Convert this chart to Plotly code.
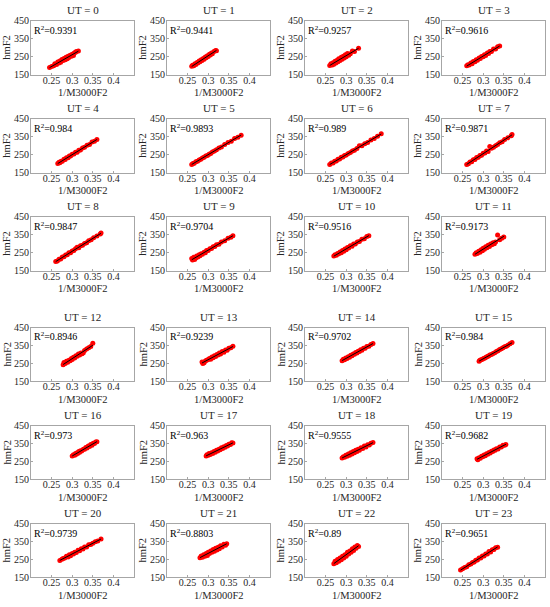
import numpy as np
import plotly.graph_objects as go

# ---------------- data ----------------
ut_hours = list(range(24))
r2_labels = ["0.9391", "0.9441", "0.9257", "0.9616", "0.984", "0.9893", "0.989", "0.9871",
             "0.9847", "0.9704", "0.9516", "0.9173", "0.8946", "0.9239", "0.9702", "0.984",
             "0.973", "0.963", "0.9555", "0.9682", "0.9739", "0.8803", "0.89", "0.9651"]

x_ticks = [0.25, 0.3, 0.35, 0.4]
x_tick_text = ["0.25", "0.3", "0.35", "0.4"]
y_ticks = [150, 250, 350, 450]

x0 = [0.245,0.25,0.255,0.258,0.262,0.265,0.268,0.27,0.272,0.275,0.278,0.28,0.283,0.285,0.288,0.29,0.292,0.295,0.298,0.3,0.303,0.305,0.308,0.31,0.315]
y0 = [190,195,200,210,206,220,214,226,219,234,228,240,233,246,238,252,245,258,252,263,256,270,275,278,281]
x1 = [0.26,0.262,0.265,0.268,0.27,0.273,0.275,0.278,0.28,0.283,0.285,0.288,0.29,0.293,0.295,0.298,0.3,0.303,0.305,0.308,0.31,0.314,0.318,0.32]
y1 = [196,202,200,210,206,218,214,226,221,233,229,240,236,248,244,255,251,263,259,270,266,279,284,283]
x2 = [0.26,0.263,0.266,0.268,0.27,0.273,0.275,0.278,0.28,0.282,0.285,0.288,0.29,0.293,0.295,0.298,0.3,0.303,0.306,0.31,0.315,0.32,0.33]
y2 = [201,210,203,216,208,224,215,230,222,238,229,246,236,252,243,260,250,268,258,266,282,278,297]
x3 = [0.26,0.263,0.266,0.27,0.273,0.276,0.28,0.283,0.286,0.29,0.293,0.296,0.3,0.303,0.306,0.31,0.313,0.316,0.32,0.325,0.33,0.335,0.34]
y3 = [199,205,203,214,211,223,222,233,230,242,239,251,250,261,257,270,268,279,278,292,293,305,309]
x4 = [0.265,0.268,0.27,0.273,0.276,0.28,0.283,0.286,0.29,0.293,0.296,0.3,0.304,0.308,0.312,0.316,0.32,0.325,0.33,0.336,0.342,0.348,0.354,0.36]
y4 = [201,208,205,214,213,224,223,233,233,242,242,252,254,263,264,275,276,287,291,303,307,320,325,334]
x5 = [0.26,0.263,0.266,0.27,0.274,0.278,0.282,0.286,0.29,0.294,0.298,0.302,0.306,0.31,0.315,0.32,0.326,0.332,0.34,0.348,0.356,0.364,0.372,0.38]
y5 = [196,201,202,210,213,221,224,232,235,243,246,253,257,265,270,277,287,292,306,318,325,340,347,358]
x6 = [0.26,0.264,0.268,0.272,0.276,0.28,0.284,0.288,0.292,0.296,0.3,0.305,0.31,0.315,0.32,0.326,0.332,0.338,0.345,0.352,0.36,0.368,0.376,0.385]
y6 = [196,203,204,213,215,224,226,235,237,245,248,257,262,271,275,285,300,299,311,318,332,340,353,366]
x7 = [0.26,0.264,0.268,0.272,0.276,0.28,0.284,0.288,0.292,0.296,0.3,0.304,0.308,0.312,0.316,0.32,0.325,0.33,0.335,0.34,0.346,0.352,0.36,0.368,0.37]
y7 = [196,199,209,211,222,223,234,235,246,247,258,259,270,268,296,286,291,300,306,316,322,335,344,355,362]
x8 = [0.26,0.264,0.268,0.272,0.276,0.28,0.284,0.288,0.292,0.296,0.3,0.304,0.308,0.312,0.316,0.32,0.325,0.33,0.335,0.34,0.346,0.352,0.36,0.368,0.37]
y8 = [201,204,213,215,226,227,237,238,249,250,260,262,272,280,278,288,292,301,306,316,322,333,343,354,359]
x9 = [0.26,0.262,0.265,0.267,0.27,0.272,0.275,0.278,0.28,0.283,0.286,0.29,0.293,0.296,0.3,0.304,0.308,0.312,0.316,0.32,0.326,0.332,0.34,0.348,0.355,0.36]
y9 = [218,210,225,212,220,232,226,238,233,244,241,253,250,262,262,272,273,283,284,294,297,310,316,330,336,344]
x10 = [0.27,0.273,0.276,0.279,0.282,0.285,0.288,0.291,0.294,0.297,0.3,0.303,0.306,0.31,0.314,0.318,0.322,0.327,0.332,0.338,0.344,0.35,0.355]
y10 = [232,238,236,246,243,254,250,262,258,270,266,279,276,288,286,299,298,310,312,325,328,340,344]
x11 = [0.28,0.283,0.286,0.289,0.292,0.295,0.298,0.3,0.303,0.306,0.309,0.312,0.315,0.318,0.321,0.324,0.327,0.33,0.335,0.34,0.345,0.35]
y11 = [242,250,246,258,253,266,261,275,269,283,278,292,285,299,294,305,300,310,348,322,330,338]
x12 = [0.278,0.28,0.283,0.286,0.289,0.292,0.295,0.298,0.3,0.303,0.306,0.309,0.312,0.315,0.318,0.321,0.324,0.327,0.33,0.335,0.34,0.345,0.35]
y12 = [243,256,250,262,257,268,265,278,272,285,281,293,290,302,297,308,304,310,322,330,338,345,362]
x13 = [0.285,0.287,0.29,0.293,0.296,0.3,0.303,0.306,0.309,0.312,0.315,0.318,0.321,0.324,0.327,0.33,0.334,0.338,0.342,0.346,0.35,0.355,0.36]
y13 = [258,250,254,264,268,272,278,274,286,282,293,289,300,297,308,303,316,313,325,323,335,337,346]
x14 = [0.29,0.293,0.296,0.299,0.302,0.305,0.308,0.311,0.314,0.317,0.32,0.323,0.326,0.329,0.332,0.335,0.338,0.342,0.346,0.35,0.355,0.36,0.365]
y14 = [265,273,270,280,278,288,285,296,293,303,301,311,308,318,316,326,324,334,334,344,346,356,361]
x15 = [0.29,0.292,0.295,0.298,0.301,0.304,0.307,0.31,0.313,0.316,0.32,0.324,0.328,0.332,0.336,0.34,0.344,0.348,0.352,0.356,0.36,0.365,0.37]
y15 = [262,268,271,273,277,281,285,289,291,297,300,306,310,316,321,327,332,337,343,346,352,360,366]
x16 = [0.3,0.303,0.306,0.308,0.31,0.312,0.314,0.316,0.318,0.32,0.323,0.327,0.33,0.333,0.336,0.339,0.342,0.345,0.348,0.351,0.354,0.357,0.36]
y16 = [280,288,285,295,290,299,296,305,301,310,308,318,318,328,325,336,333,344,341,352,350,358,360]
x17 = [0.295,0.297,0.3,0.302,0.305,0.308,0.311,0.314,0.317,0.32,0.323,0.326,0.329,0.332,0.335,0.338,0.341,0.344,0.347,0.35,0.354,0.357,0.36]
y17 = [281,288,284,294,289,299,295,305,301,312,308,318,315,326,322,332,329,339,336,346,345,354,353]
x18 = [0.29,0.293,0.296,0.299,0.302,0.305,0.308,0.311,0.314,0.317,0.32,0.323,0.326,0.329,0.332,0.336,0.34,0.344,0.348,0.352,0.356,0.36,0.365]
y18 = [270,277,273,284,279,291,285,298,291,305,298,312,305,318,312,326,322,336,331,343,342,351,356]
x19 = [0.285,0.287,0.29,0.293,0.296,0.299,0.302,0.305,0.308,0.311,0.314,0.317,0.32,0.323,0.326,0.329,0.332,0.336,0.34,0.344,0.348,0.352,0.355]
y19 = [265,260,271,268,279,276,286,282,293,290,300,297,307,305,314,312,321,320,331,330,341,340,344]
x20 = [0.27,0.275,0.278,0.282,0.286,0.29,0.293,0.296,0.3,0.303,0.306,0.31,0.314,0.318,0.322,0.326,0.33,0.335,0.34,0.345,0.35,0.356,0.362,0.37]
y20 = [245,252,256,258,268,264,276,271,284,280,291,289,301,299,310,308,320,320,332,333,340,349,353,364]
x21 = [0.28,0.283,0.286,0.289,0.292,0.295,0.298,0.3,0.303,0.306,0.309,0.312,0.315,0.318,0.321,0.324,0.327,0.33,0.334,0.338,0.342,0.345]
y21 = [260,270,262,276,268,283,272,290,283,298,290,305,296,312,303,318,310,326,320,335,330,338]
x22 = [0.27,0.273,0.276,0.279,0.282,0.285,0.288,0.291,0.294,0.297,0.3,0.303,0.306,0.309,0.312,0.315,0.318,0.321,0.324,0.327,0.33]
y22 = [226,240,232,250,240,258,249,268,258,276,268,290,280,298,290,310,300,320,312,328,322]
x23 = [0.245,0.25,0.255,0.26,0.265,0.27,0.274,0.278,0.282,0.286,0.29,0.294,0.298,0.302,0.306,0.31,0.314,0.318,0.322,0.326,0.33,0.335]
y23 = [192,199,205,210,221,225,234,236,246,247,258,259,269,270,280,281,294,292,304,305,316,318]

xs = [x0,x1,x2,x3,x4,x5,x6,x7,x8,x9,x10,x11,x12,x13,x14,x15,x16,x17,x18,x19,x20,x21,x22,x23]
ys = [y0,y1,y2,y3,y4,y5,y6,y7,y8,y9,y10,y11,y12,y13,y14,y15,y16,y17,y18,y19,y20,y21,y22,y23]

# ---------------- layout geometry (pixels) ----------------
W, H = 550, 607
col_left = [31, 167, 305, 442]
row_top = [15, 115, 215, 328, 428, 528]
pw, ph = 103, 55
FONT = "Liberation Serif, Times New Roman, serif"
FRAME = "#a6a6a6"
TXT = "#262626"

fig = go.Figure()
layout = dict(width=W, height=H, margin=dict(l=0, r=0, t=0, b=0, pad=0),
              paper_bgcolor="white", plot_bgcolor="white", showlegend=False,
              font=dict(family=FONT, size=10, color=TXT))
annotations = []

for i in range(24):
    r, c = divmod(i, 4)
    L, T = col_left[c], row_top[r]
    xd = [L / W, (L + pw) / W]
    yd = [1 - (T + ph) / H, 1 - T / H]
    sfx = "" if i == 0 else str(i + 1)
    xa, ya = "x" + sfx, "y" + sfx
    x = np.array(xs[i]); y = np.array(ys[i])
    fig.add_trace(go.Scatter(x=x, y=y, mode="markers", xaxis=xa, yaxis=ya,
                             marker=dict(color="#ff0000", size=5, line=dict(width=0))))
    k, b = np.polyfit(x, y, 1)
    lx = np.array([x.min(), x.max()])
    fig.add_trace(go.Scatter(x=lx, y=k * lx + b, mode="lines", xaxis=xa, yaxis=ya,
                             line=dict(color="black", width=1)))
    common = dict(showline=True, mirror=True, linecolor=FRAME, linewidth=1,
                  showgrid=False, zeroline=False, ticks="inside", ticklen=2,
                  tickcolor=FRAME, tickfont=dict(family=FONT, size=10, color=TXT))
    layout["xaxis" + sfx] = dict(domain=xd, range=[0.2, 0.45], tickvals=x_ticks,
                                 ticktext=x_tick_text, anchor=ya, ticklabelstandoff=-4, **common)
    layout["yaxis" + sfx] = dict(domain=yd, range=[150, 450], tickvals=y_ticks,
                                 anchor=xa, ticklabelstandoff=-1, **common)
    cx = (L + pw / 2) / W
    annotations.append(dict(text="UT = %d" % ut_hours[i], x=cx, y=1 - (T - 3) / H,
                            xref="paper", yref="paper", xanchor="center", yanchor="bottom",
                            showarrow=False, font=dict(family=FONT, size=11, color=TXT)))
    annotations.append(dict(text="R<sup>2</sup>=" + r2_labels[i], x=(L + 1) / W, y=1 - (T + 1) / H,
                            xref="paper", yref="paper", xanchor="left", yanchor="top",
                            showarrow=False, font=dict(family=FONT, size=10, color="black")))
    annotations.append(dict(text="1/M3000F2", x=cx, y=1 - (T + ph + 18) / H,
                            xref="paper", yref="paper", xanchor="center", yanchor="middle",
                            showarrow=False, font=dict(family=FONT, size=10.5, color=TXT)))
    annotations.append(dict(text="hmF2", x=(L - 24) / W, y=1 - (T + ph / 2) / H,
                            xref="paper", yref="paper", xanchor="center", yanchor="middle",
                            textangle=-90, showarrow=False,
                            font=dict(family=FONT, size=10.5, color=TXT)))

layout["annotations"] = annotations
fig.update_layout(**layout)
fig.write_html("out.html", config={"displayModeBar": False},
               post_script="document.body.style.margin='0';document.body.style.padding='0';")
